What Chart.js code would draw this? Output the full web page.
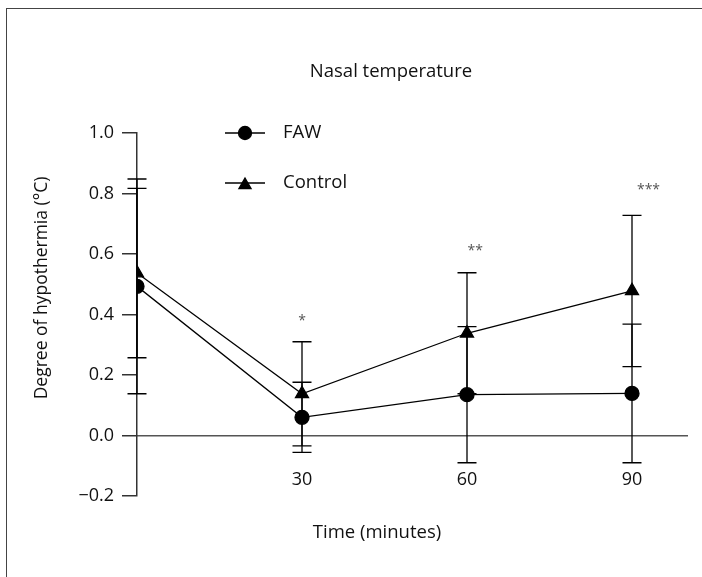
<!DOCTYPE html>
<html>
<head>
<meta charset="utf-8">
<style>
  html, body { margin: 0; padding: 0; background: #fff; }
  #wrap { position: relative; width: 702px; height: 577px; overflow: hidden; }
  #frame { position: absolute; left: 6px; top: 8px; right: -2px; bottom: -2px;
           border-left: 1.5px solid #444; border-top: 1.5px solid #444; pointer-events: none; }
</style>
</head>
<body>
<div id="wrap">
  <canvas id="chart" width="702" height="577"></canvas>
  <div id="frame"></div>
</div>
<script src="https://cdn.jsdelivr.net/npm/chart.js@4.4.1/dist/chart.umd.min.js"></script>
<script>
// values
const times = [0, 30, 60, 90];
const fawMean = [0.493, 0.06, 0.135, 0.139];
const fawSd = [0.355, 0.116, 0.225, 0.229];
const ctrlMean = [0.537, 0.138, 0.338, 0.478];
const ctrlSd = [0.28, 0.172, 0.2, 0.25];
const xTicks = [30, 60, 90];
const sigLabels = ['*', '**', '***'];
const sigX = [30, 61.5, 93];
const sigY = [0.39, 0.62, 0.82];

const FONT = '"Open Sans", sans-serif';
const TEXT = '#111';

function points(means) {
  return times.map((t, i) => ({x: t, y: means[i]}));
}

// vertical SD bars with caps
const errorBars = {
  id: 'errorBars',
  afterDatasetsDraw(chart) {
    const {ctx, scales: {x, y}} = chart;
    ctx.save();
    ctx.strokeStyle = '#000';
    ctx.lineWidth = 1.3;
    chart.data.datasets.forEach(ds => {
      ds.data.forEach((p, i) => {
        const px = x.getPixelForValue(p.x);
        const lo = y.getPixelForValue(p.y - ds.sd[i]);
        const hi = y.getPixelForValue(p.y + ds.sd[i]);
        ctx.beginPath();
        ctx.moveTo(px, lo); ctx.lineTo(px, hi);
        ctx.moveTo(px - 9.5, lo); ctx.lineTo(px + 9.5, lo);
        ctx.moveTo(px - 9.5, hi); ctx.lineTo(px + 9.5, hi);
        ctx.stroke();
      });
    });
    ctx.restore();
  }
};

// titles, significance stars and the legend inside the plot
const labels = {
  id: 'labels',
  afterDraw(chart) {
    const {ctx, chartArea: a, scales: {x, y}} = chart;
    ctx.save();
    ctx.fillStyle = TEXT;
    ctx.textAlign = 'center';
    ctx.textBaseline = 'middle';

    ctx.font = '18.5px ' + FONT;
    ctx.fillText('Nasal temperature', 391, 72);
    ctx.fillText('Time (minutes)', 377, 533);

    ctx.save();
    ctx.translate(42, 288);
    ctx.rotate(-Math.PI / 2);
    ctx.font = '17.5px ' + FONT;
    ctx.fillText('Degree of hypothermia (°C)', 0, 0);
    ctx.restore();

    ctx.fillStyle = '#555';
    ctx.font = '14px ' + FONT;
    sigLabels.forEach((s, i) => {
      ctx.fillText(s, x.getPixelForValue(sigX[i]), y.getPixelForValue(sigY[i]) + 3);
    });

    // legend
    const lx = a.left + 88, rows = [a.top, a.top + 50];
    chart.data.datasets.forEach((ds, i) => {
      const ly = rows[i];
      ctx.strokeStyle = '#000';
      ctx.lineWidth = 1.3;
      ctx.beginPath();
      ctx.moveTo(lx, ly); ctx.lineTo(lx + 40, ly);
      ctx.stroke();
      ctx.fillStyle = '#000';
      Chart.helpers.drawPoint(ctx, {pointStyle: ds.pointStyle, radius: ds.pointRadius - 0.5, rotation: 0, borderWidth: 1}, lx + 20, ly + (ds.pointStyle === 'triangle' ? 2 : 0));
      ctx.fillStyle = TEXT;
      ctx.textAlign = 'left';
      ctx.font = '18.5px ' + FONT;
      ctx.fillText(ds.label, lx + 58, ly);
    });
    ctx.restore();
  }
};

const ctx = document.getElementById('chart').getContext('2d');
new Chart(ctx, {
  type: 'line',
  data: {
    datasets: [
      {
        label: 'FAW',
        data: points(fawMean),
        sd: fawSd,
        borderColor: '#000',
        borderWidth: 1.3,
        pointStyle: 'circle',
        pointRadius: 7,
        pointBackgroundColor: '#000',
        pointBorderColor: '#000',
      },
      {
        label: 'Control',
        data: points(ctrlMean),
        sd: ctrlSd,
        borderColor: '#000',
        borderWidth: 1.3,
        pointStyle: 'triangle',
        pointRadius: 7.5,
        pointBackgroundColor: '#000',
        pointBorderColor: '#000',
      }
    ]
  },
  options: {
    responsive: false,
    animation: false,
    layout: {padding: {left: 0, right: 15, top: 133, bottom: 81}},
    plugins: {
      legend: {display: false},
      tooltip: {enabled: false},
      title: {display: false}
    },
    scales: {
      x: {
        type: 'linear',
        min: 0,
        max: 100,
        position: {y: 0},
        afterBuildTicks: s => { s.ticks = xTicks.map(v => ({value: v})); },
        grid: {display: false, drawTicks: false},
        border: {display: true, color: '#555', width: 1.5},
        ticks: {padding: 34, font: {family: FONT, size: 18}, color: TEXT}
      },
      y: {
        min: -0.2,
        max: 1.0,
        afterFit: s => { s.width = 137; },
        ticks: {
          stepSize: 0.2,
          padding: 8,
          font: {family: FONT, size: 18},
          color: TEXT,
          callback: v => (Math.abs(v) < 1e-9 ? 0 : v).toFixed(1).replace('-', '\u2212')
        },
        grid: {drawOnChartArea: false, tickLength: 15, color: '#333', lineWidth: 1.5},
        border: {color: '#333', width: 1.5}
      }
    }
  },
  plugins: [errorBars, labels]
});
</script>
</body>
</html>
